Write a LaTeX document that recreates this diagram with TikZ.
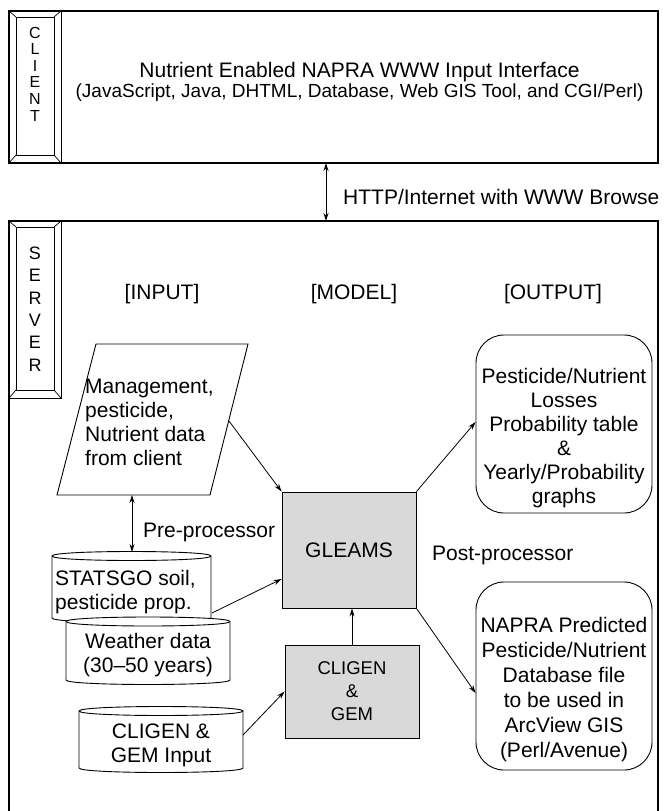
\documentclass[tikz,border=0pt]{standalone}
\usepackage{fontspec}
\setmainfont{Liberation Sans}
\usetikzlibrary{arrows.meta}
\definecolor{boxgray}{RGB}{217,217,217}
\begin{document}
\begin{tikzpicture}[x=1pt,y=-1pt,
  frame/.style={line width=1.4pt},
  shp/.style={line width=0.9pt},
  bev/.style={line width=0.7pt},
  arr/.style={line width=0.8pt,-{Stealth[length=8pt,width=5pt]}},
  darr/.style={line width=0.8pt,{Stealth[length=8pt,width=5pt]}-{Stealth[length=8pt,width=5pt]}},
  big/.style={font=\fontsize{21}{24}\selectfont, inner sep=0pt},
  mid/.style={font=\fontsize{19}{22}\selectfont, inner sep=0pt},
  outbox/.style={draw, shp, rounded corners=28pt, minimum width=176pt, inner sep=0pt},
  graybox/.style={draw, shp, fill=boxgray, inner sep=0pt, align=center}
]
\useasboundingbox (0,0) rectangle (664,811);

% ---------- CLIENT ----------
\draw[frame] (9,11) rectangle (658,163);
\draw[shp] (9,11) rectangle (61,163);
\draw[bev] (16,17) rectangle (54,155);
\draw[bev] (9,11)--(16,17) (61,11)--(54,17) (9,163)--(16,155) (61,163)--(54,155);
\node[font=\fontsize{16}{16.6}\selectfont, align=center, inner sep=0pt] (clientlbl) at (35,74) {C\\L\\I\\E\\N\\T};
\node[big, anchor=base] (title) at (359.5,77.5) {Nutrient Enabled NAPRA WWW Input Interface};
\node[mid, anchor=base] (tech) at (359.5,97.8) {(JavaScript, Java, DHTML, Database, Web GIS Tool, and CGI/Perl)};

% ---------- link ----------
\coordinate (cbot) at (326,163);
\coordinate (stop) at (326,221);
\draw[darr] (cbot) -- (stop);
\node[big, anchor=base west] (http) at (343,204.5) {HTTP/Internet with WWW Browse};

% ---------- SERVER ----------
\draw[frame] (9,811) -- (9,221) -- (658,221) -- (658,811);
\draw[shp] (9,221) rectangle (61,398);
\draw[bev] (16,227) rectangle (54,390);
\draw[bev] (9,221)--(16,227) (61,221)--(54,227) (9,398)--(16,390) (61,398)--(54,390);
\node[font=\fontsize{18}{22.4}\selectfont, align=center, inner sep=0pt] (serverlbl) at (35,309) {S\\E\\R\\V\\E\\R};

\node[big, anchor=base] (hin) at (162,299.5) {[INPUT]};
\node[big, anchor=base] (hmod) at (354,299.5) {[MODEL]};
\node[big, anchor=base] (hout) at (553,299.5) {[OUTPUT]};

% parallelogram
\draw[shp] (96,344) -- (248,344) -- (210,495) -- (57,495) -- cycle;
\node[big, align=left, anchor=west] (mgmt) at (85,422.5) {Management,\\pesticide,\\Nutrient data\\from client};
\coordinate (mgmtR) at (229,421);
\coordinate (mgmtB) at (132,495);

% cylinders
\newcommand{\cylshape}[4]{%
  \filldraw[shp, fill=white] (#1,#3) -- (#1,#4) .. controls (#1,#4+6) and (#2,#4+6) .. (#2,#4) -- (#2,#3) .. controls (#2,#3-6) and (#1,#3-6) .. cycle;
  \draw[shp] (#1,#3) .. controls (#1,#3+6) and (#2,#3+6) .. (#2,#3);
}
\cylshape{52}{211}{556}{618}
\node[big, align=left, anchor=west] (statsgo) at (55,592) {STATSGO soil,\\pesticide prop.};
\cylshape{66}{230}{621.5}{680}
\node[big, align=center] (weather) at (148,655) {Weather data\\(30--50 years)};
\cylshape{79}{243}{711}{768}
\node[big, align=center] (cliginp) at (161,745) {CLIGEN \&\\GEM Input};
\coordinate (statsgoT) at (132,552);
\coordinate (statsgoR) at (212,613);
\coordinate (cliginpR) at (243,735);

\draw[darr] (mgmtB) -- (statsgoT);
\node[big, anchor=base west] (pre) at (143,537.5) {Pre-processor};

% model
\node[graybox, minimum width=134pt, minimum height=116pt, font=\fontsize{21}{24}\selectfont] (gleams) at (349,550) {GLEAMS};
\node[graybox, minimum width=134pt, minimum height=93pt, font=\fontsize{18.5}{23}\selectfont] (cligen) at (352,691.5) {CLIGEN\\\&\\GEM};
\node[big, anchor=base west] (post) at (432,560.5) {Post-processor};

% outputs
\node[outbox, minimum height=178pt] (out1) at (564,424) {};
\node[big, align=center, font=\fontsize{21}{24}\selectfont] (out1txt) at (564,438) {Pesticide/Nutrient\\Losses\\Probability table\\\&\\Yearly/Probability\\graphs};
\node[outbox, minimum height=188pt] (out2) at (564,676) {};
\node[big, align=center, font=\fontsize{21}{25}\selectfont] (out2txt) at (564,689.5) {NAPRA Predicted\\Pesticide/Nutrient\\Database file\\to be used in\\ArcView GIS\\(Perl/Avenue)};

% connectors
\draw[arr] (mgmtR) -- (gleams.north west);
\draw[arr] (statsgoR) -- (gleams.west |- 0,579);
\draw[arr] (cliginpR) -- (cligen.west);
\draw[arr] (cligen.north) -- (cligen.north |- gleams.south);
\draw[arr] (gleams.north east) -- (out1.west |- 0,422);
\draw[arr] (gleams.south east) -- (out2.west |- 0,693);
\end{tikzpicture}
\end{document}
